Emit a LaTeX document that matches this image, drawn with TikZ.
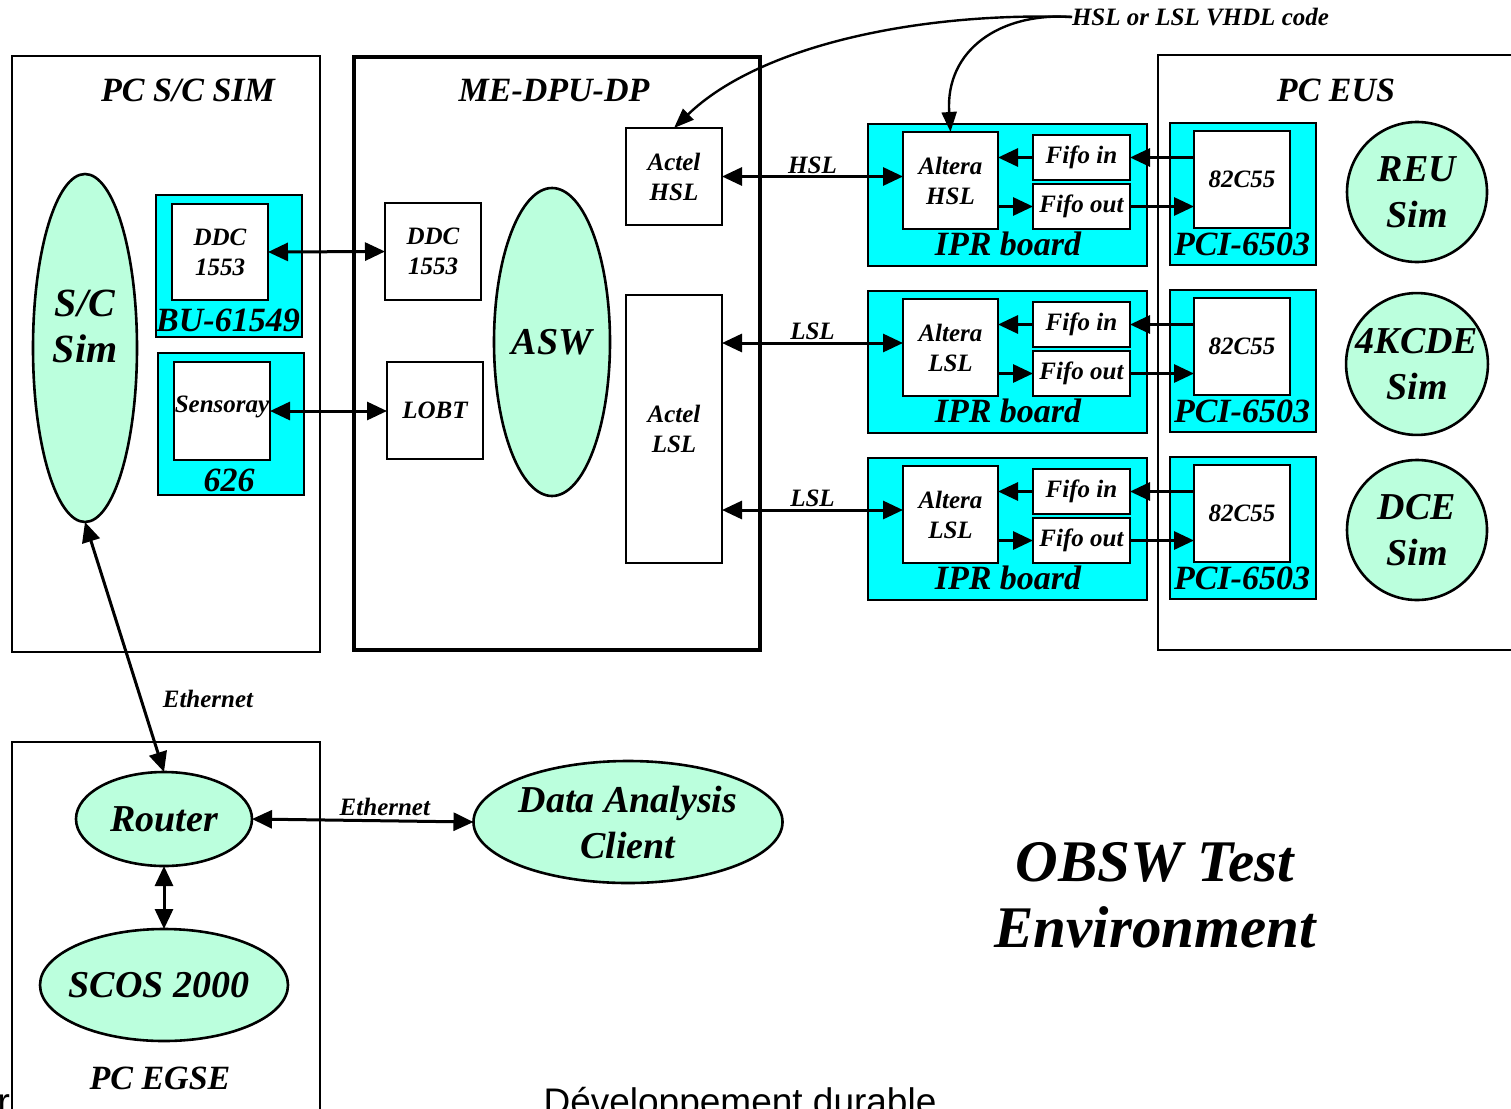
\documentclass[tikz,border=0pt]{standalone}
\usepackage{fontspec}
\setmainfont{Liberation Serif}
\newfontfamily\sansf{Liberation Sans}
\usetikzlibrary{shapes.geometric,arrows.meta,calc}
\definecolor{mint}{RGB}{187,255,221}
\definecolor{cyanbox}{RGB}{0,255,255}
\newcommand\fsz[2]{\fontsize{#1}{#2}\selectfont\bfseries\itshape}
\tikzset{
  every node/.style={inner sep=0pt, outer sep=0pt},
  pcbox/.style={draw, line width=2.2pt},
  dpubox/.style={draw, line width=4.5pt},
  cybox/.style={draw, line width=2.8pt, fill=cyanbox},
  wbox/.style={draw, line width=1.2pt, fill=white, align=center},
  mintell/.style={draw, ellipse, line width=2.6pt, fill=mint, align=center},
  mintcirc/.style={draw, circle, line width=2.6pt, fill=mint, align=center},
  tip/.style={-{Triangle[length=20pt,width=18pt]}, line width=3pt},
  bitip/.style={{Triangle[length=20pt,width=18pt]}-{Triangle[length=20pt,width=18pt]}, line width=3pt},
  curvetip/.style={-{Triangle[length=20pt,width=15pt]}, line width=2.4pt},
  small/.style={font=\fsz{25}{30}},
  title/.style={font=\fsz{34}{38}},
  big/.style={font=\fsz{38}{46}},
  lbl/.style={font=\fsz{25}{28}},
}
\begin{document}
\begin{tikzpicture}[x=1pt,y=-1pt]
\clip (0,0) rectangle (1511,1108);
\fill[white] (0,0) rectangle (1511,1108);

% ---------- big frames ----------
\node[pcbox, minimum width=308pt, minimum height=596pt] (pcsim) at (166,354) {};
\node[title] (pcsimt) at (188,90) {PC S/C SIM};
\node[dpubox, minimum width=406pt, minimum height=593pt] (dpu) at (557,353.5) {};
\node[title] (dput) at (554,91) {ME-DPU-DP};
\node[pcbox, minimum width=360pt, minimum height=595pt] (pceus) at (1338,352.5) {};
\node[title] (pceust) at (1336,90) {PC EUS};
\node[pcbox, minimum width=308pt, minimum height=400pt] (pcegse) at (166,942) {};
\node[title] (pcegset) at (160,1078) {PC EGSE};

% ---------- PC S/C SIM ----------
\node[mintell, minimum width=104pt, minimum height=348pt] (scsim) at (85,348) {};
\node[font=\fsz{40}{46}, align=center] (scsimt) at (85,326) {S/C\\Sim};
\node[cybox, minimum width=146pt, minimum height=142pt] (bu) at (229,266) {};
\node[wbox, small, minimum width=96pt, minimum height=96pt] (ddcbu) at (220,252) {DDC\\1553};
\node[title] (bul) at (228,320) {BU-61549};
\node[cybox, minimum width=146pt, minimum height=142pt] (sens) at (231,424) {};
\node[wbox, minimum width=96pt, minimum height=98pt] (sensin) at (222,411) {};
\node[small] (sensl) at (222,407) {Sensoray};
\node[title] (s626) at (229,480) {626};

% ---------- DPU ----------
\node[wbox, small, minimum width=96pt, minimum height=97pt] (ddcdpu) at (433,251.5) {DDC\\1553};
\node[wbox, small, minimum width=96pt, minimum height=97pt] (lobt) at (435,410.5) {LOBT};
\node[mintell, minimum width=116pt, minimum height=308pt, font=\fsz{38}{44}] (asw) at (552,342) {ASW};
\node[wbox, small, minimum width=96pt, minimum height=97pt] (actelhsl) at (674,176.5) {Actel\\HSL};
\node[wbox, small, minimum width=96pt, minimum height=268pt] (actellsl) at (674,429) {Actel\\LSL};

\draw[bitip] (ddcbu.east) -- (ddcdpu.west);
\draw[bitip] (sensin.east) -- (sensin.east -| lobt.west);

% ---------- IPR boards and PCI boards ----------
\foreach \i/\dy/\kind in {1/0/HSL, 2/167/LSL, 3/334/LSL}{
  \node[cybox, minimum width=279pt, minimum height=142pt] (ipr\i) at (1007.5,195+\dy) {};
  \node[wbox, small, minimum width=95pt, minimum height=97pt] (alt\i) at (950.5,180.5+\dy) {Altera\\\kind};
  \node[wbox, small, minimum width=97pt, minimum height=45pt] (fin\i) at (1081.5,157.5+\dy) {Fifo in};
  \node[wbox, small, minimum width=97pt, minimum height=45pt] (fout\i) at (1081.5,206.5+\dy) {Fifo out};
  \node[title] (iprl\i) at (1008,244+\dy) {IPR board};
  \node[cybox, minimum width=146pt, minimum height=142pt] (pci\i) at (1243,194+\dy) {};
  \node[wbox, small, minimum width=96pt, minimum height=97pt] (chip\i) at (1242,179.5+\dy) {82C55};
  \node[title] (pcil\i) at (1242,244+\dy) {PCI-6503};
  \draw[tip] (fin\i.west) -- (fin\i.west -| alt\i.east);
  \draw[tip] (alt\i.east |- fout\i.west) -- (fout\i.west);
  \draw[tip] (chip\i.west |- fin\i.east) -- (fin\i.east);
  \draw[tip] (fout\i.east) -- (fout\i.east -| chip\i.west);
  \coordinate (in\i) at ($(alt\i.west)+(0,-4.5)$);
}

\draw[bitip] (actelhsl.east) -- (actelhsl.east -| alt1.west) node[lbl, midway, above=3pt] (hsll) {HSL};
\draw[bitip] (actellsl.east |- in2) -- (in2) node[lbl, midway, above=3pt] (lsl1) {LSL};
\draw[bitip] (actellsl.east |- in3) -- (in3) node[lbl, midway, above=3pt] (lsl2) {LSL};

% ---------- simulators ----------
\node[mintcirc, minimum size=140pt, font=\fsz{38}{46}] (reu) at (1417,192) {REU\\Sim};
\node[mintcirc, minimum size=140pt, font=\fsz{38}{46}] (kcde) at (1417,364) {4KCDE\\Sim};
\node[mintcirc, minimum size=140pt, font=\fsz{38}{46}] (dce) at (1417,530) {DCE\\Sim};

% ---------- VHDL code ----------
\node[lbl, anchor=west] (vhdl) at (1072,17) {HSL or LSL VHDL code};
\draw[curvetip] (vhdl.west) .. controls (920,12) and (760,45) .. (actelhsl.north);
\draw[curvetip] (vhdl.west) .. controls (1000,12) and (945,50) .. (alt1.north);

% ---------- EGSE ----------
\node[mintell, minimum width=176pt, minimum height=94pt, font=\fsz{38}{44}] (router) at (164,819) {Router};
\node[mintell, minimum width=248pt, minimum height=112pt] (scos) at (164,985) {};
\node[font=\fsz{38}{44}] (scost) at (159,985) {SCOS 2000};
\node[mintell, minimum width=302pt, minimum height=122pt, font=\fsz{38}{46}] (dac) at (628,822) {Data Analysis\\Client};

\draw[bitip] (scsim.south) -- (router.north);
\node[lbl] (eth1) at (208,699) {Ethernet};
\draw[bitip] (router.east) -- (dac.west) node[lbl, pos=0.6, above=5pt] (eth2) {Ethernet};
\draw[bitip] (router.south) -- (scos.north);

% ---------- title ----------
\node[font=\fsz{59}{66}, align=center] (ttl) at (1155,895) {OBSW Test\\Environment};

% ---------- cropped footer text ----------
\node[font=\sansf\fontsize{37}{40}\selectfont, anchor=base] (dev) at (740,1114) {Développement durable};
\node[font=\sansf\fontsize{37}{40}\selectfont, anchor=base east] (rr) at (10,1114) {r};
\end{tikzpicture}
\end{document}
